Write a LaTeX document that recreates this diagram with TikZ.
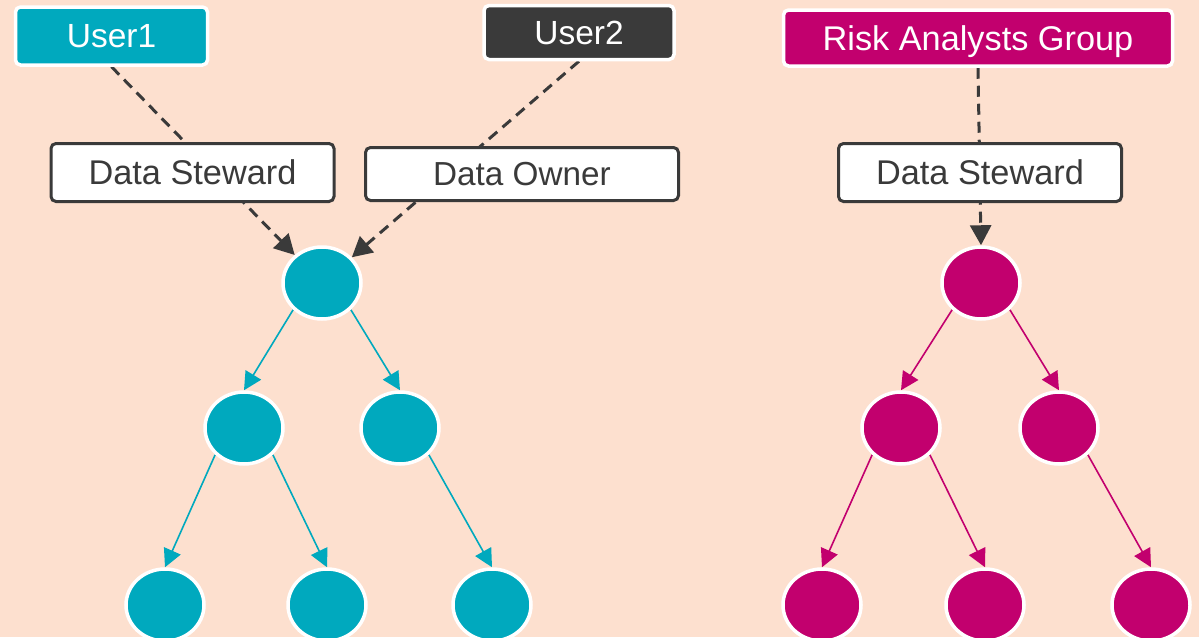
\documentclass[tikz,border=0pt]{standalone}
\usepackage{fontspec}
\setmainfont{Liberation Sans}
\usetikzlibrary{arrows.meta,shapes.geometric,backgrounds}
\definecolor{bgc}{HTML}{FDE0CF}
\definecolor{teal}{HTML}{00A9BE}
\definecolor{mag}{HTML}{C2006E}
\definecolor{dark}{HTML}{3A3A3A}
\tikzset{
  box/.style={rectangle,rounded corners=5pt,inner sep=0pt},
  userbox/.style={box,line width=3.5pt,draw=white,text=white,font=\fontsize{33.5}{38}\selectfont},
  rolebox/.style={box,line width=3pt,draw=dark,fill=white,text=dark,font=\fontsize{34.3}{38}\selectfont},
  treenode/.style={ellipse,draw=white,line width=3.5pt,minimum width=78pt,minimum height=72pt,inner sep=0pt},
  tealnode/.style={treenode,fill=teal},
  magnode/.style={treenode,fill=mag},
  dashedge/.style={draw=dark,line width=3pt,dash pattern=on 11pt off 7pt,-{Triangle[length=20pt,width=21pt]}},
  tealedge/.style={draw=teal,line width=1.6pt,-{Triangle[length=18pt,width=18pt]}},
  magedge/.style={draw=mag,line width=1.6pt,-{Triangle[length=18pt,width=18pt]}}
}
\begin{document}
\begin{tikzpicture}[x=1pt,y=-1pt]
\useasboundingbox (0,0) rectangle (1199,637);
\clip (0,0) rectangle (1199,637);
\node[userbox,fill=teal,minimum width=192pt,minimum height=58pt] (user1) at (111.5,36) {User1};
\node[userbox,fill=dark,minimum width=190pt,minimum height=54pt] (user2) at (579,32.5) {User2};
\node[userbox,fill=mag,minimum width=389pt,minimum height=56pt,font=\fontsize{34.3}{38}\selectfont,text height=24pt,text depth=0pt] (risk) at (978,38) {Risk Analysts Group};
\node[rolebox,minimum width=283pt,minimum height=58pt] (ds1) at (192.5,172.5) {Data Steward};
\node[rolebox,minimum width=313pt,minimum height=53pt,font=\fontsize{33.3}{38}\selectfont] (do) at (522,174) {Data Owner};
\node[rolebox,minimum width=283pt,minimum height=58pt] (ds2) at (980,172.5) {Data Steward};
\node[tealnode] (a) at (322,283) {};
\node[tealnode] (b) at (244,428) {};
\node[tealnode] (c) at (400,428) {};
\node[tealnode] (d) at (165,605) {};
\node[tealnode] (e) at (327,605) {};
\node[tealnode] (f) at (492,605) {};
\node[magnode] (p) at (981,283) {};
\node[magnode] (q) at (901,428) {};
\node[magnode] (r) at (1059,428) {};
\node[magnode] (s) at (822,605) {};
\node[magnode] (t) at (985,605) {};
\node[magnode] (u) at (1151,605) {};
\begin{scope}[on background layer]
\fill[bgc] (0,0) rectangle (1199,637);
\draw[dashedge] (user1.south) -- (a);
\draw[dashedge] (user2.south) -- (a);
\draw[dashedge] (risk.south) -- (p.north);
\draw[tealedge] (a.south west) -- (b.north);
\draw[tealedge] (a.south east) -- (c.north);
\draw[tealedge] (b.south west) -- (d.north);
\draw[tealedge] (b.south east) -- (e.north);
\draw[tealedge] (c.south east) -- (f.north);
\draw[magedge] (p.south west) -- (q.north);
\draw[magedge] (p.south east) -- (r.north);
\draw[magedge] (q.south west) -- (s.north);
\draw[magedge] (q.south east) -- (t.north);
\draw[magedge] (r.south east) -- (u.north);
\end{scope}
\end{tikzpicture}
\end{document}
